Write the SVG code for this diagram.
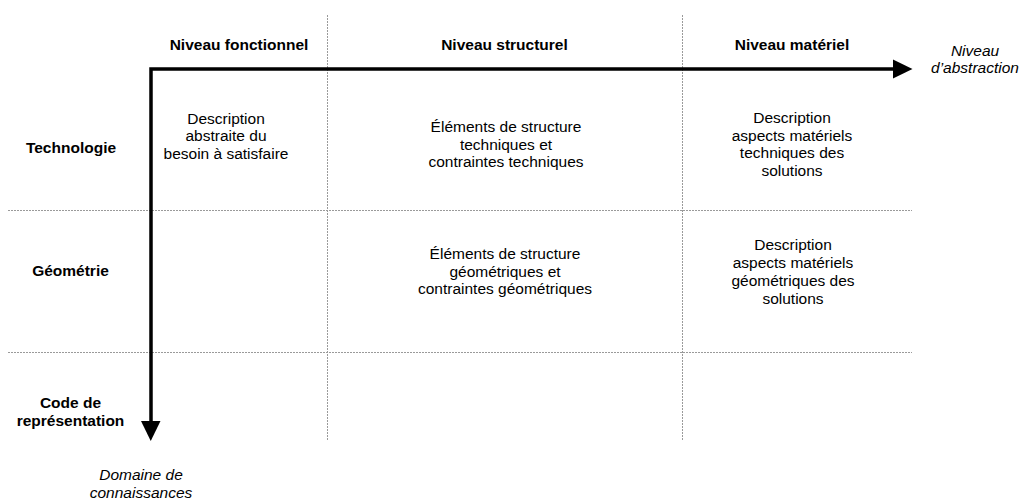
<svg xmlns="http://www.w3.org/2000/svg" width="1022" height="501" viewBox="0 0 1022 501">
<defs>
<style>
text{font-family:"Liberation Sans",Arial,sans-serif;font-size:15.5px;fill:#000;text-anchor:middle}
.b{font-weight:bold}
.i{font-style:italic}
.grid{stroke:#9a9a9a;stroke-width:1;stroke-dasharray:2,1;fill:none}
.axis{stroke:#000;stroke-width:3.5;fill:none}
</style>
</defs>
<rect width="1022" height="501" fill="#fff"/>
<g id="grid">
<line class="grid" x1="327.5" y1="15" x2="327.5" y2="440"/>
<line class="grid" x1="682.5" y1="15" x2="682.5" y2="440"/>
<line class="grid" x1="8" y1="210.5" x2="912" y2="210.5"/>
<line class="grid" x1="8" y1="352.5" x2="912" y2="352.5"/>
</g>
<g id="connectors">
<path class="axis" d="M151,422 V69 H894"/>
<polygon points="893,59.5 912.5,69 893,78.5" fill="#000"/>
<polygon points="141,421 160.5,421 150.75,441" fill="#000"/>
</g>
<g id="col-fonctionnel"><text class="b" x="239" y="50">Niveau fonctionnel</text></g>
<g id="col-structurel"><text class="b" x="504.5" y="50">Niveau structurel</text></g>
<g id="col-materiel"><text class="b" x="792" y="50">Niveau matériel</text></g>
<g id="axis-abstraction"><text class="i" x="975" y="56">Niveau</text><text class="i" x="975" y="73">d’abstraction</text></g>
<g id="row-technologie"><text class="b" x="71" y="153">Technologie</text></g>
<g id="row-geometrie"><text class="b" x="70.5" y="276">Géométrie</text></g>
<g id="row-code"><text class="b" x="70.5" y="408">Code de</text><text class="b" x="70.5" y="426">représentation</text></g>
<g id="axis-domaine"><text class="i" x="141" y="480">Domaine de</text><text class="i" x="141" y="498">connaissances</text></g>
<g id="cell-tech-fonc"><text x="226" y="123.5">Description</text><text x="226" y="141">abstraite du</text><text x="226" y="158.5">besoin à satisfaire</text></g>
<g id="cell-tech-struct"><text x="506" y="132">Éléments de structure</text><text x="506" y="149.5">techniques et</text><text x="506" y="167">contraintes techniques</text></g>
<g id="cell-tech-mat"><text x="792" y="123">Description</text><text x="792" y="140.5">aspects matériels</text><text x="792" y="158">techniques des</text><text x="792" y="175.5">solutions</text></g>
<g id="cell-geo-struct"><text x="505" y="259">Éléments de structure</text><text x="505" y="276.5">géométriques et</text><text x="505" y="294">contraintes géométriques</text></g>
<g id="cell-geo-mat"><text x="793" y="250">Description</text><text x="793" y="268">aspects matériels</text><text x="793" y="286">géométriques des</text><text x="793" y="304">solutions</text></g>
</svg>
